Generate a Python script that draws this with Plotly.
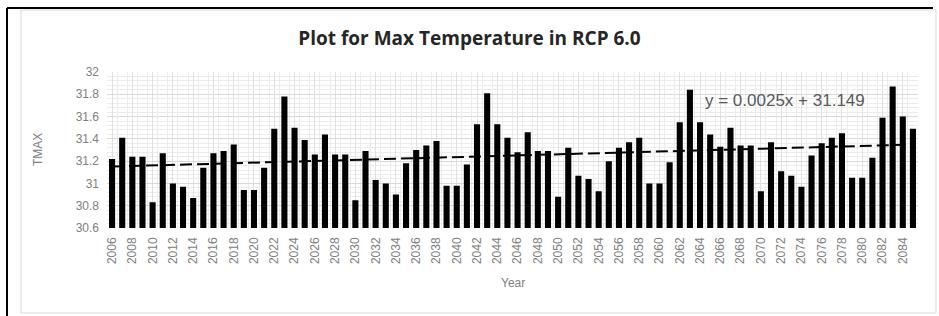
import plotly.graph_objects as go
import numpy as np

years = list(range(2006, 2086))
tmax = [
    31.22, 31.41, 31.24, 31.24, 30.83, 31.27, 31.00, 30.97, 30.87, 31.14,
    31.27, 31.29, 31.35, 30.94, 30.94, 31.14, 31.49, 31.78, 31.50, 31.39,
    31.26, 31.44, 31.26, 31.26, 30.85, 31.29, 31.03, 31.00, 30.90, 31.18,
    31.30, 31.34, 31.38, 30.98, 30.98, 31.17, 31.53, 31.81, 31.53, 31.41,
    31.28, 31.46, 31.29, 31.29, 30.88, 31.32, 31.07, 31.04, 30.93, 31.20,
    31.32, 31.37, 31.41, 31.00, 31.00, 31.19, 31.55, 31.84, 31.55, 31.44,
    31.33, 31.50, 31.34, 31.34, 30.93, 31.37, 31.11, 31.07, 30.97, 31.25,
    31.36, 31.41, 31.45, 31.05, 31.05, 31.23, 31.59, 31.87, 31.60, 31.49,
]
slope = 0.0025
intercept = 31.149
tick_years = list(range(2006, 2086, 2))
y_ticks = [30.6, 30.8, 31.0, 31.2, 31.4, 31.6, 31.8, 32.0]
y_tick_text = ["30.6", "30.8", "31", "31.2", "31.4", "31.6", "31.8", "32"]

idx = np.arange(1, len(years) + 1)
trend = slope * idx + intercept

W, H = 939, 316
L, R, T, B = 107, 918, 72, 228  # plot area in px

def px(x):
    return (x - L) / (R - L)

def py(y):
    return (B - y) / (B - T)

fig = go.Figure()
fig.add_trace(go.Bar(x=years, y=tmax, marker=dict(color="black", line=dict(width=0)),
                     showlegend=False, hoverinfo="x+y"))
fig.add_trace(go.Scatter(x=years, y=trend, mode="lines",
                         line=dict(color="black", width=2, dash="12px,5px"),
                         showlegend=False))

grey = "#808080"
fig.update_layout(
    width=W, height=H,
    margin=dict(l=L, r=W - R, t=T, b=H - B),
    paper_bgcolor="white", plot_bgcolor="white",
    bargap=0.4,
    font=dict(family="Liberation Sans, sans-serif", color=grey, size=12),
    title=dict(text="<b>Plot for Max Temperature in RCP 6.0</b>",
               x=0.5, xanchor="center", y=1 - 38 / H, yanchor="middle",
               font=dict(family="Open Sans, sans-serif", size=19, color="#262626")),
    xaxis=dict(
        range=[2005.5, 2085.5],
        tickmode="array", tickvals=tick_years, ticktext=[str(y) for y in tick_years],
        tickangle=-90, showline=False, zeroline=False,
        showgrid=True, gridcolor="#e0e0e0", gridwidth=1,
        ticks="", ticklabelstandoff=6, tickfont=dict(size=12, color=grey),
        minor=dict(showgrid=True, gridcolor="#ececec", tickmode="array",
                   tickvals=[y + 0.5 for y in range(2005, 2086)]),
    ),
    yaxis=dict(
        range=[30.6, 32.0],
        tickmode="array", tickvals=y_ticks, ticktext=y_tick_text,
        showgrid=True, gridcolor="#d9d9d9", zeroline=False, showline=False,
        ticks="", ticklabelstandoff=7, tickfont=dict(size=12, color=grey),
        minor=dict(showgrid=True, gridcolor="#ececec", dtick=0.04, tick0=30.6),
    ),
    shapes=[
        dict(type="rect", xref="paper", yref="paper",
             x0=px(21), x1=px(936), y0=py(313), y1=py(10),
             line=dict(color="#d9d9d9", width=1), layer="below"),
        dict(type="line", xref="paper", yref="paper",
             x0=px(7), x1=px(7), y0=py(8), y1=py(320),
             line=dict(color="black", width=2)),
        dict(type="line", xref="paper", yref="paper",
             x0=px(7), x1=px(933), y0=py(8), y1=py(8),
             line=dict(color="black", width=2)),
    ],
    annotations=[
        dict(text="y = 0.0025x + 31.149", xref="paper", yref="paper",
             x=px(703), y=py(100), xanchor="left", yanchor="middle",
             showarrow=False, font=dict(size=17, color="#595959",
                                         family="Liberation Sans, sans-serif")),
        dict(text="TMAX", xref="paper", yref="paper", textangle=-90,
             x=px(38), y=py(150), xanchor="center", yanchor="middle",
             showarrow=False, font=dict(size=12, color=grey)),
        dict(text="Year", xref="paper", yref="paper",
             x=px(513), y=py(283), xanchor="center", yanchor="middle",
             showarrow=False, font=dict(size=12, color=grey)),
    ],
)

fig.write_html("out.html", config={"displayModeBar": False},
               post_script="document.body.style.margin='0';")
